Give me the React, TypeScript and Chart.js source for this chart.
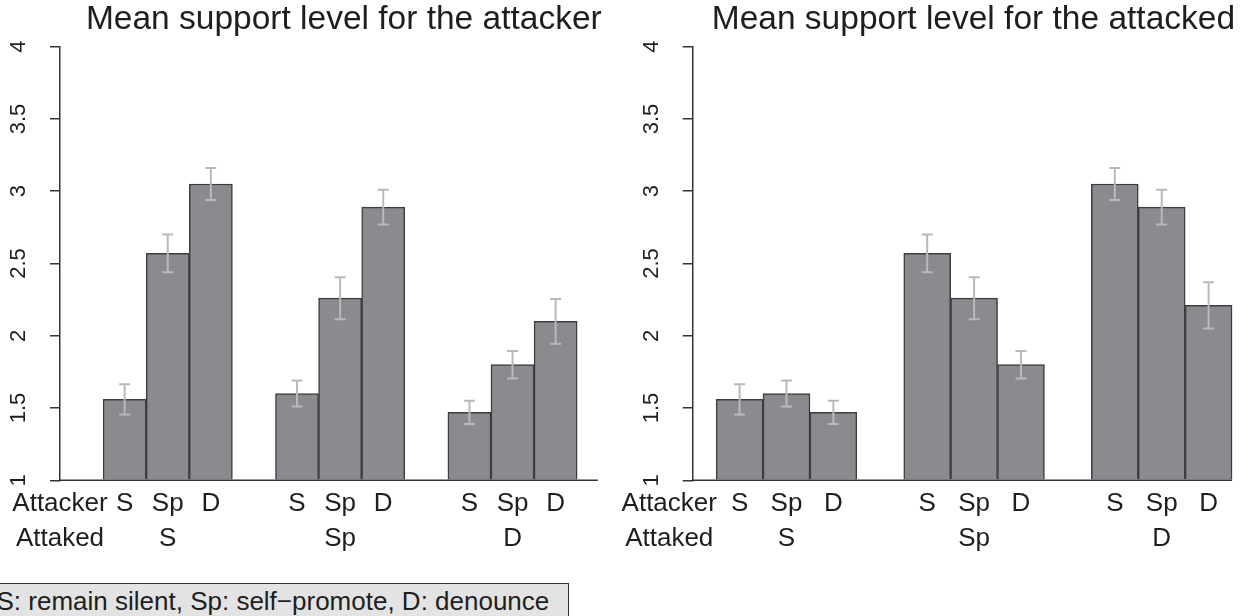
import React, { useEffect, useRef } from "react";
import { Chart, registerables } from "chart.js";

Chart.register(...registerables);

// ---------------- data ----------------
const attackerCategories = ["S", "Sp", "D"];
const attackedCategories = ["S", "Sp", "D"];
const rowLabels = ["Attacker", "Attaked"];
const yTickValues = [1, 1.5, 2, 2.5, 3, 3.5, 4];
const yTickLabels = ["1", "1.5", "2", "2.5", "3", "3.5", "4"];

// ordered by attacked group (S, Sp, D), then attacker (S, Sp, D)
const attackerSupport = [1.56, 2.57, 3.05, 1.6, 2.26, 2.89, 1.47, 1.8, 2.1];
const attackerSupportErr = [0.105, 0.13, 0.11, 0.09, 0.145, 0.12, 0.08, 0.095, 0.155];
const attackedSupport = [1.56, 1.6, 1.47, 2.57, 2.26, 1.8, 3.05, 2.89, 2.21];
const attackedSupportErr = [0.105, 0.09, 0.08, 0.13, 0.145, 0.095, 0.11, 0.12, 0.16];

const titleLeft = "Mean support level for the attacker";
const titleRight = "Mean support level for the attacked";
const legendText = "S: remain silent, Sp: self\u2212promote, D: denounce";

// ---------------- styles ----------------
const FONT = "'Liberation Sans', Arial, Helvetica, sans-serif";
const TEXT = "#1e1e1e";
const AXIS = "#333333";
const BAR_FILL = "#8a8b8f";
const BAR_EDGE = "#3d3d3d";
const ERR = "#b9b9b9";
const H = 616;

// bar centre along the x scale: one empty unit before each group of three
const nGroups = attackedCategories.length;
const nBars = attackerCategories.length;
const barX = (i: number) => {
  const g = Math.floor(i / nBars);
  const b = i % nBars;
  return 1 + g * (nBars + 1) + b + 0.5;
};

const xTickValues = [0, ...Array.from({ length: nGroups * nBars }, (_, i) => barX(i))];
const xTickLabel = (i: number): string[] => {
  if (i === 0) return rowLabels;
  const k = i - 1;
  const g = Math.floor(k / nBars);
  const b = k % nBars;
  return [attackerCategories[b], b === 1 ? attackedCategories[g] : ""];
};

const errorBarPlugin = {
  id: "errorBars",
  afterDatasetsDraw(chart: any) {
    const ctx = chart.ctx;
    const yScale = chart.scales.y;
    chart.data.datasets.forEach((ds: any, di: number) => {
      const errs = ds.errorBars;
      if (!errs) return;
      const meta = chart.getDatasetMeta(di);
      ctx.save();
      ctx.strokeStyle = ERR;
      ctx.lineWidth = 2;
      const cap = 5.5;
      meta.data.forEach((el: any, i: number) => {
        const v = ds.data[i].y;
        const e = errs[i];
        const x = el.x;
        const yHi = yScale.getPixelForValue(v + e);
        const yLo = yScale.getPixelForValue(v - e);
        ctx.beginPath();
        ctx.moveTo(x, yHi);
        ctx.lineTo(x, yLo);
        ctx.moveTo(x - cap, yHi);
        ctx.lineTo(x + cap, yHi);
        ctx.moveTo(x - cap, yLo);
        ctx.lineTo(x + cap, yLo);
        ctx.stroke();
      });
      ctx.restore();
    });
  },
};

type PanelProps = {
  title: string;
  values: number[];
  errors: number[];
  left: number;
  width: number;
  yAxisWidth: number;
  padRight: number;
  xMin: number;
  xMax: number;
  baselineEnd: number;
};

function Panel(p: PanelProps) {
  const ref = useRef<HTMLCanvasElement | null>(null);
  useEffect(() => {
    if (!ref.current) return;
    const chart = new Chart(ref.current, {
      type: "bar",
      data: {
        datasets: [
          {
            type: "bar",
            data: p.values.map((v, i) => ({ x: barX(i), y: v })),
            base: 1,
            backgroundColor: BAR_FILL,
            borderColor: BAR_EDGE,
            borderWidth: 1.5,
            barPercentage: 1,
            categoryPercentage: 1,
            order: 1,
            errorBars: p.errors,
          } as any,
          {
            type: "line",
            data: [
              { x: p.xMin, y: 1 },
              { x: p.baselineEnd, y: 1 },
            ],
            borderColor: AXIS,
            borderWidth: 1.5,
            pointRadius: 0,
            clip: false,
            order: 0,
          } as any,
        ],
      },
      options: {
        animation: false,
        responsive: false,
        layout: { padding: { left: 0, right: p.padRight, top: 0, bottom: 0 } },
        plugins: {
          legend: { display: false },
          tooltip: { enabled: false },
          title: {
            display: true,
            text: p.title,
            fullSize: false,
            align: "center",
            color: TEXT,
            font: { family: FONT, size: 33.5, weight: "normal", lineHeight: 1.164 },
            padding: { top: 0, bottom: 7.7 },
          },
        },
        scales: {
          x: {
            type: "linear",
            min: p.xMin,
            max: p.xMax,
            offset: false,
            bounds: "data",
            grid: { display: false, drawTicks: false },
            border: { display: false },
            ticks: {
              autoSkip: false,
              maxRotation: 0,
              minRotation: 0,
              padding: 6.5,
              color: TEXT,
              font: { family: FONT, size: 26, lineHeight: 1.327 },
              callback: (_v: any, i: number) => xTickLabel(i),
            },
            afterBuildTicks: (s: any) => {
              s.ticks = xTickValues.map((v) => ({ value: v }));
            },
            afterFit: (s: any) => {
              s.height = H - 480.3;
            },
          },
          y: {
            type: "linear",
            min: yTickValues[0],
            max: yTickValues[yTickValues.length - 1],
            bounds: "data",
            grid: { drawOnChartArea: false, drawTicks: true, tickLength: 10, color: AXIS, lineWidth: 1.5 },
            border: { display: true, color: AXIS, width: 1.5 },
            ticks: {
              autoSkip: false,
              minRotation: 90,
              maxRotation: 90,
              crossAlign: "center",
              padding: 15.5,
              color: TEXT,
              font: { family: FONT, size: 22 },
              callback: (_v: any, i: number) => yTickLabels[i],
            },
            afterBuildTicks: (s: any) => {
              s.ticks = yTickValues.map((v) => ({ value: v }));
            },
            afterFit: (s: any) => {
              s.width = p.yAxisWidth;
            },
          },
        },
      } as any,
      plugins: [errorBarPlugin],
    });
    return () => chart.destroy();
  }, []);
  return (
    <canvas
      ref={ref}
      width={p.width}
      height={H}
      style={{ position: "absolute", left: p.left, top: 0, width: p.width, height: H, display: "block" }}
    />
  );
}

export default function App() {
  return (
    <div
      style={{
        position: "absolute",
        left: 0,
        top: 0,
        width: 1252,
        height: H,
        overflow: "hidden",
        background: "#ffffff",
      }}
    >
      <Panel
        title={titleLeft}
        values={attackerSupport}
        errors={attackerSupportErr}
        left={0}
        width={640}
        yAxisWidth={60}
        padRight={12.4}
        xMin={0}
        xMax={13.17}
        baselineEnd={12.48}
      />
      <Panel
        title={titleRight}
        values={attackedSupport}
        errors={attackedSupportErr}
        left={600}
        width={662}
        yAxisWidth={92.7}
        padRight={7.9}
        xMin={0.5}
        xMax={12.47}
        baselineEnd={12}
      />
      <div
        style={{
          position: "absolute",
          left: -20,
          top: 582.5,
          width: 589,
          height: 60,
          boxSizing: "border-box",
          border: "1.5px solid #333",
          background: "#e3e3e3",
          fontFamily: FONT,
          fontSize: 26,
          lineHeight: "34px",
          paddingLeft: 15.5,
          color: TEXT,
          whiteSpace: "nowrap",
        }}
      >
        {legendText}
      </div>
    </div>
  );
}
